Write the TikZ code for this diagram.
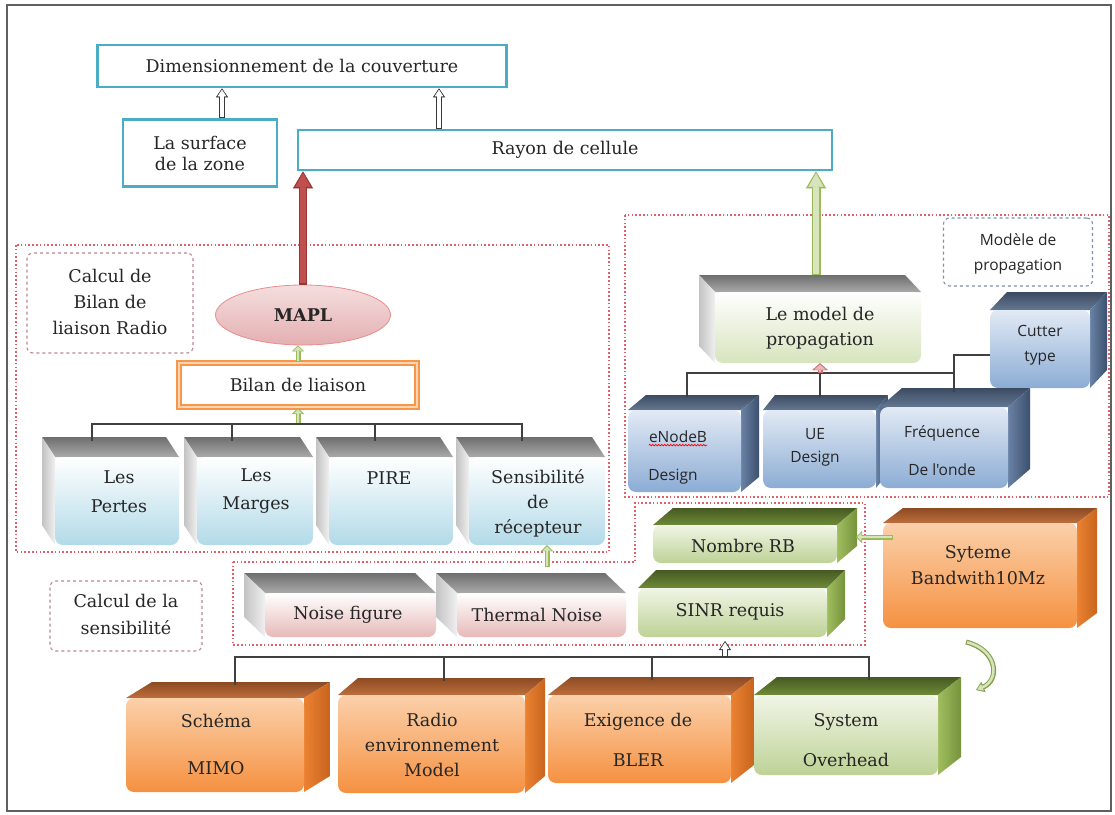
\documentclass[tikz,border=0pt]{standalone}
\usepackage{fontspec}
\setmainfont{DejaVu Serif}
\newfontfamily\sansf{Open Sans}
\usetikzlibrary{arrows.meta,shapes.geometric,fit,calc,decorations.pathmorphing}
\definecolor{txtc}{RGB}{38,38,38}
\definecolor{tealc}{RGB}{75,172,198}
\definecolor{dotc}{RGB}{225,95,105}
\definecolor{labc}{RGB}{185,135,145}
\definecolor{labb}{RGB}{125,145,175}
\definecolor{redf}{RGB}{192,80,77}
\definecolor{redb}{RGB}{150,55,52}
\definecolor{grf}{RGB}{215,228,189}
\definecolor{grb}{RGB}{155,187,89}
\definecolor{orc}{RGB}{247,150,70}
\definecolor{orl}{RGB}{251,213,181}
\definecolor{gTa}{RGB}{110,110,110}
\definecolor{gTb}{RGB}{170,170,170}
\definecolor{gSa}{RGB}{195,195,195}
\definecolor{gSb}{RGB}{240,240,240}
\definecolor{lblue}{RGB}{178,218,232}
\definecolor{pinkF}{RGB}{230,185,184}
\definecolor{lgreen}{RGB}{215,228,189}
\definecolor{bTa}{RGB}{60,75,98}
\definecolor{bTb}{RGB}{100,120,145}
\definecolor{bSa}{RGB}{105,130,165}
\definecolor{bSb}{RGB}{60,80,110}
\definecolor{bFa}{RGB}{226,234,245}
\definecolor{bFb}{RGB}{140,172,212}
\definecolor{grTa}{RGB}{70,90,35}
\definecolor{grTb}{RGB}{110,138,55}
\definecolor{grSa}{RGB}{160,190,95}
\definecolor{grSb}{RGB}{118,146,60}
\definecolor{grFa}{RGB}{240,245,230}
\definecolor{grFb}{RGB}{190,210,150}
\definecolor{oTa}{RGB}{140,75,35}
\definecolor{oTb}{RGB}{190,110,60}
\definecolor{oSa}{RGB}{235,130,50}
\definecolor{oSb}{RGB}{200,100,30}
\definecolor{oFa}{RGB}{251,208,170}
\definecolor{oFb}{RGB}{245,145,65}
\definecolor{mapla}{RGB}{245,222,222}
\definecolor{maplb}{RGB}{228,175,178}

\newcommand{\mycube}[9]{%
  \path[#8top] (#2,#3) -- ({#2+(#6)},{#3-(#7)}) -- ({#4+(#6)},{#3-(#7)}) -- (#4,#3) -- cycle;
  \path[#8side] (#9,#3) -- ({#9+(#6)},{#3-(#7)}) -- ({#9+(#6)},{#5-(#7)}) -- (#9,#5) -- cycle;
  \node[#8front, fit={(#2,#3)(#4,#5)}, inner sep=0pt] (#1) {};
}
\newcommand{\hollow}[3]{%
  \draw[#1] #3;
  \draw[#2] #3;
}

\tikzset{
  tx/.style={font=\fontsize{17.5}{#1}\selectfont, text=txtc, align=center, inner sep=0pt},
  tx/.default=21,
  sx/.style={font=\sansf\fontsize{15.5}{#1}\selectfont, text=txtc, align=center, inner sep=0pt},
  sx/.default=19,
  tealbox/.style={draw=tealc, line width=2.6pt, fill=white, inner sep=0pt, font=\fontsize{17.5}{21}\selectfont, text=txtc, align=center},
  region/.style={draw=dotc, line width=1.6pt, dash pattern=on 1.6pt off 2.2pt},
  labbox/.style={draw=labc, line width=1.1pt, dash pattern=on 3pt off 3pt, rounded corners=6pt, inner sep=0pt},
  treeline/.style={draw=black!75, line width=1.4pt},
  gtop/.style={top color=gTa, bottom color=gTb},
  gside/.style={left color=gSa, right color=gSb},
  gfront/.style={rounded corners=8pt, top color=white, bottom color=lblue},
  ptop/.style={gtop}, pside/.style={gside},
  pfront/.style={rounded corners=8pt, top color=white, bottom color=pinkF},
  lgtop/.style={gtop}, lgside/.style={gside},
  lgfront/.style={rounded corners=8pt, top color=white, bottom color=lgreen},
  btop/.style={top color=bTa, bottom color=bTb},
  bside/.style={left color=bSa, right color=bSb},
  bfront/.style={rounded corners=8pt, top color=bFa, bottom color=bFb},
  grtop/.style={top color=grTa, bottom color=grTb},
  grside/.style={left color=grSa, right color=grSb},
  grfront/.style={rounded corners=8pt, top color=grFa, bottom color=grFb},
  otop/.style={top color=oTa, bottom color=oTb},
  oside/.style={left color=oSa, right color=oSb},
  ofront/.style={rounded corners=8pt, top color=oFa, bottom color=oFb},
  maplnode/.style={ellipse, top color=mapla, bottom color=maplb, draw=maplb!80!red, line width=0.8pt,
    minimum width=175pt, minimum height=60pt, font=\bfseries\fontsize{17.5}{21}\selectfont, text=txtc},
  bilanbox/.style={draw=orc, line width=2pt, double=orl, double distance=2.4pt, fill=white,
    minimum width=238pt, minimum height=44pt, inner sep=0pt, font=\fontsize{17.5}{21}\selectfont, text=txtc},
  hoRed/.style={draw=redb, line width=8pt, -{Triangle[length=17pt,width=20pt,line width=0.4pt]}},
  hiRed/.style={draw=redf, line width=5.2pt, shorten >=2pt, shorten <=1.3pt, -{Triangle[length=13.5pt,width=15pt,line width=0.4pt]}},
  hoGreen/.style={draw=grb, line width=9pt, -{Triangle[length=17pt,width=20pt,line width=0.4pt]}},
  hiGreen/.style={draw=grf, line width=6pt, shorten >=2pt, shorten <=1.3pt, -{Triangle[length=13.5pt,width=15pt,line width=0.4pt]}},
  hoG/.style={draw=gray!45!black, line width=6pt, -{Triangle[length=9pt,width=12pt,line width=0.4pt]}},
  hiG/.style={draw=white, line width=3.6pt, shorten >=1.5pt, shorten <=1pt, -{Triangle[length=6.5pt,width=8.5pt,line width=0.4pt]}},
  hoSG/.style={draw=grb, line width=5pt, -{Triangle[length=6pt,width=12pt,line width=0.4pt]}},
  hiSG/.style={draw=grf, line width=2.8pt, shorten >=1.3pt, shorten <=1pt, -{Triangle[length=4pt,width=8pt,line width=0.4pt]}},
  hoSR/.style={draw=redf!80, line width=5pt, -{Triangle[length=7pt,width=16pt,line width=0.4pt]}},
  hiSR/.style={draw=pinkF, line width=2.6pt, shorten >=1.3pt, shorten <=1pt, -{Triangle[length=5pt,width=11pt,line width=0.4pt]}},
  hoCG/.style={draw=grb!85!black, line width=5pt, -{Triangle[length=8pt,width=11pt,line width=0.4pt]}},
  hiCG/.style={draw=grf, line width=2.6pt, shorten >=1.4pt, shorten <=1pt, -{Triangle[length=5.5pt,width=7pt,line width=0.4pt]}},
}

\begin{document}
\begin{tikzpicture}[x=1pt,y=-1pt]
\useasboundingbox (0,0) rectangle (1115,814);
\fill[white] (0,0) rectangle (1115,814);
\draw[gray!75!black, line width=2pt] (7,5) rectangle (1111,811);

% ---------- dotted regions
\draw[region] (16,245) rectangle (609,552);
\draw[region] (625,215) rectangle (1109,497);
\draw[region] (233,562) -- (635,562) -- (635,503) -- (865,503) -- (865,645) -- (233,645) -- cycle;

% ---------- top boxes
\node[tealbox, minimum width=409pt, minimum height=42pt] (dim) at (302,66) {Dimensionnement de la couverture};
\node[tealbox, minimum width=154pt, minimum height=67pt] (surf) at (200,153) {La surface\\de la zone};
\node[tealbox, minimum width=534pt, minimum height=40pt] (rayon) at (565,150) {Rayon de cellule};

% ---------- left region
\node[labbox, minimum width=166pt, minimum height=100pt] (lab1) at (110,303) {};
\node[tx=26] (lab1t) at (110,302) {Calcul de\\Bilan de\\liaison Radio};
\node[maplnode] (mapl) at (303,315) {MAPL};
\node[bilanbox] (bilan) at (298,385) {Bilan de liaison};

\mycube{pertes}{55}{457}{179}{545}{-13}{20}{g}{55}
\mycube{marges}{197}{457}{313}{545}{-13}{20}{g}{197}
\mycube{pire}{329}{457}{453}{545}{-13}{20}{g}{329}
\mycube{sens}{469}{457}{605}{545}{-13}{20}{g}{469}
\node[tx=29] (pertest) at (119,492) {Les\\Pertes};
\node[tx=28] (margest) at (256,491) {Les\\Marges};
\node[tx] (piret) at (389,478) {PIRE};
\node[tx=25] (senst) at (538,503) {Sensibilité\\de\\récepteur};

% ---------- right region
\node[labbox, draw=labb, minimum width=149pt, minimum height=68pt] (lab3) at (1018,252) {};
\node[sx=25] (lab3t) at (1018,254) {Modèle de\\propagation};
\mycube{lemodel}{715}{292}{921}{363}{-16}{17}{lg}{715}
\node[tx=25] (lemodelt) at (820,328) {Le model de\\propagation};
\mycube{cutter}{990}{310}{1090}{388}{17}{18}{b}{1090}
\mycube{enodeb}{628}{410}{741}{492}{18}{15}{b}{741}
\mycube{ue}{763}{410}{876}{488}{12}{15}{b}{876}
\mycube{freq}{880}{407}{1008}{488}{22}{19}{b}{1008}
\node[sx=25] (cuttert) at (1040,345) {Cutter\\type};
\node[sx] (enb1) at (678,437) {eNodeB};
\node[sx] (enb2) at (673,477) {Design};
\draw[red, line width=0.8pt, decorate, decoration={snake, amplitude=0.7pt, segment length=3pt}]
  ([yshift=-2pt]enb1.south west) -- ([yshift=-2pt]enb1.south east);
\node[sx=23] (uet) at (815,447) {UE\\Design};
\node[sx=38] (freqt) at (942,451) {Fréquence\\De l'onde};

% ---------- middle region
\node[labbox, minimum width=152pt, minimum height=70pt] (lab2) at (126,616) {};
\node[tx=27] (lab2t) at (126,614) {Calcul de la\\sensibilité};
\mycube{noise}{265}{593}{436}{637}{-21}{20}{p}{265}
\mycube{thermal}{457}{593}{626}{637}{-21}{20}{p}{457}
\node[tx] (noiset) at (348,615) {Noise figure};
\node[tx] (thermalt) at (537,615) {Thermal Noise};
\mycube{nombre}{653}{525}{837}{563}{20}{17}{gr}{837}
\mycube{sinr}{638}{588}{827}{637}{18}{18}{gr}{827}
\node[tx] (nombret) at (743,546) {Nombre RB};
\node[tx] (sinrt) at (730,612) {SINR requis};
\mycube{sys}{883}{523}{1077}{628}{20}{15}{o}{1077}
\node[tx=26] (syst) at (978,565) {Syteme\\Bandwith10Mz};

% ---------- bottom row
\mycube{schema}{126}{698}{304}{792}{26}{16}{o}{304}
\mycube{radio}{338}{695}{525}{793}{20}{17}{o}{525}
\mycube{exig}{548}{695}{731}{783}{23}{18}{o}{731}
\mycube{sysov}{754}{695}{938}{775}{23}{18}{gr}{938}
\node[tx=47] (schemat) at (216,744) {Schéma\\MIMO};
\node[tx=25] (radiot) at (432,745) {Radio\\environnement\\Model};
\node[tx=40] (exigt) at (638,740) {Exigence de\\BLER};
\node[tx=40] (sysovt) at (846,740) {System\\Overhead};

% ---------- connectors
\coordinate (a1) at ([xshift=22pt]surf.north);
\coordinate (a2) at ([xshift=-126pt]rayon.north);
\hollow{hoG}{hiG}{(a1) -- (a1 |- dim.south)}
\hollow{hoG}{hiG}{(a2) -- (a2 |- dim.south)}
\hollow{hoRed}{hiRed}{(mapl.north) -- (mapl.north |- rayon.south)}
\coordinate (g1) at ([xshift=-2pt,yshift=17pt]lemodel.north);
\hollow{hoGreen}{hiGreen}{(g1) -- (g1 |- rayon.south)}

\hollow{hoSG}{hiSG}{(bilan.north) -- (bilan.north |- mapl.south)}
\coordinate (lt) at ([yshift=-16pt]bilan.south);
\hollow{hoSG}{hiSG}{(lt) -- (bilan.south)}
\coordinate (d1) at (92,441);
\coordinate (d2) at (232,441);
\coordinate (d3) at (375,441);
\coordinate (d4) at (522,441);
\draw[treeline] (d1) |- (lt) -| (d4);
\draw[treeline] (d2) -- (d2 |- lt);
\draw[treeline] (d3) -- (d3 |- lt);

\coordinate (rt) at (820,373);
\coordinate (r1) at (687,397);
\coordinate (r2) at (820,397);
\coordinate (r3) at (954,392);
\coordinate (r4) at (954,355);
\draw[treeline] (r1) |- (rt) -| (r3);
\draw[treeline] (r2) -- (rt);
\draw[treeline] (r3) -- (r4) -- (r4 -| cutter.west);
\hollow{hoSR}{hiSR}{(rt) -- (rt |- lemodel.south)}

\coordinate (ga) at (893,537);
\coordinate (gb) at (856,537);
\hollow{hoSG}{hiSG}{(ga) -- (gb)}
\coordinate (sa) at (547,567);
\hollow{hoSG}{hiSG}{(sa) -- (sa |- sens.south)}

\coordinate (bt) at (725,657);
\coordinate (bs) at (725,641);
\coordinate (b1) at (235,685);
\coordinate (b2) at (444,681);
\coordinate (b3) at (652,680);
\coordinate (b4) at (869,680);
\draw[treeline] (b1) |- (bt) -| (b4);
\draw[treeline] (b2) -- (b2 |- bt);
\draw[treeline] (b3) -- (b3 |- bt);
\hollow{hoG}{hiG}{(bt) -- (bs)}

\coordinate (c1) at (966,642);
\coordinate (c2) at (976,690);
\hollow{hoCG}{hiCG}{(c1) .. controls (998,650) and (1000,680) .. (c2)}
\end{tikzpicture}
\end{document}
